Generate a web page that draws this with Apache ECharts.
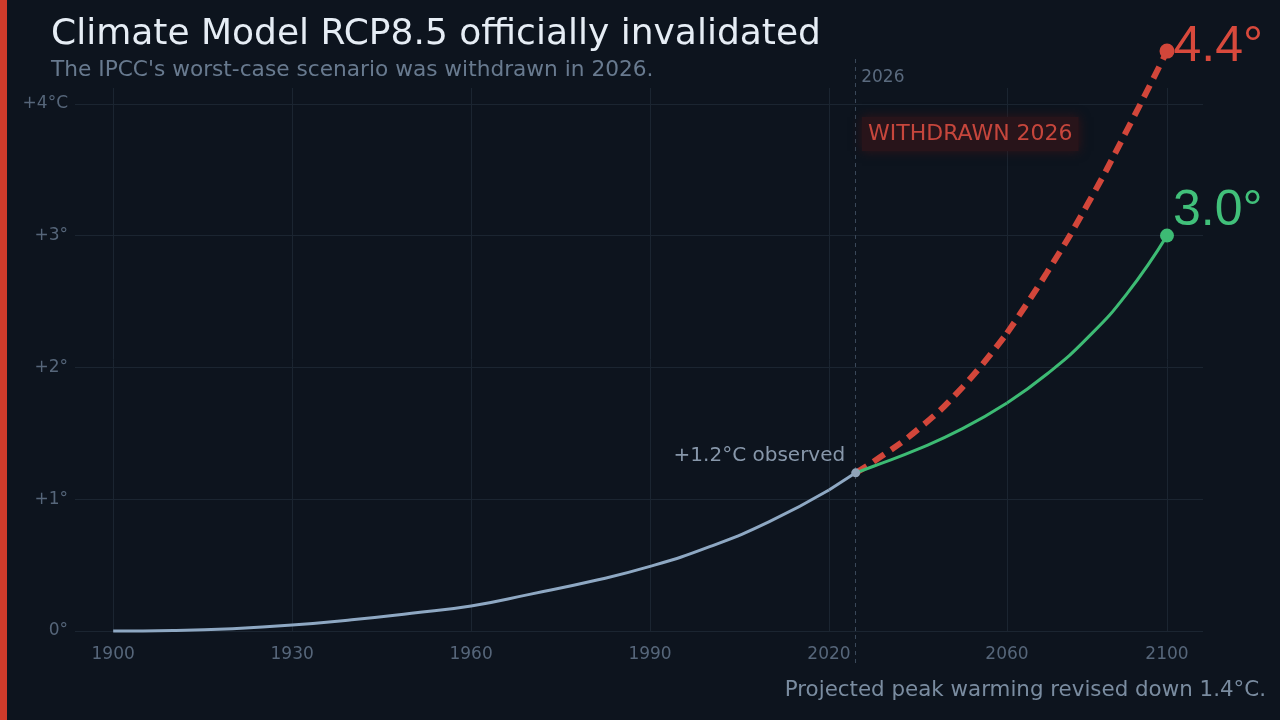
<!DOCTYPE html>
<html>
<head>
<meta charset="utf-8">
<title>Climate Model RCP8.5 officially invalidated</title>
<script src="https://cdn.jsdelivr.net/npm/echarts@6/dist/echarts.min.js"></script>
<style>
  html, body { margin: 0; padding: 0; background: #0d141e; }
  #chart { width: 1280px; height: 720px; }
</style>
</head>
<body>
<div id="chart"></div>
<script>
// observed warming, 1900-2026 (°C)
var histYears = [1900, 1910, 1920, 1930, 1940, 1950, 1960, 1970, 1980, 1990, 2000, 2010, 2020, 2026];
var histValues = [0, 0.004, 0.018, 0.045, 0.085, 0.135, 0.19, 0.28, 0.375, 0.49, 0.64, 0.83, 1.07, 1.2];

// projections 2026-2100
var projYears = [2026, 2030, 2040, 2050, 2060, 2070, 2080, 2090, 2100];
var rcp85Values = [1.2, 1.285, 1.53, 1.85, 2.26, 2.72, 3.23, 3.8, 4.4];
var revisedValues = [1.2, 1.25, 1.38, 1.535, 1.73, 1.95, 2.22, 2.56, 3.0];

var withdrawnYear = 2026;
var xTicksPast = [1900, 1930, 1960, 1990, 2020];
var xTicksFuture = [2060, 2100];
var yTicks = [0, 1, 2, 3, 4];
var yTickLabels = ['0°', '+1°', '+2°', '+3°', '+4°C'];

var FONT = 'DejaVu Sans';
var BIG_FONT = 'Liberation Sans';
var GRID_LINE = '#1b2531';
var AXIS_TEXT = '#56667a';
var RED = '#d2463a';
var GREEN = '#3dbb74';
var STEEL = '#8ea8c3';

// pick [x, y] pairs with lo <= x <= hi
function pairs(xs, ys, lo, hi) {
    var out = [];
    for (var i = 0; i < xs.length; i++) {
        if (xs[i] >= lo && xs[i] <= hi) out.push([xs[i], ys[i]]);
    }
    return out;
}

function yAxisCfg(idx, showLabels) {
    return {
        type: 'value',
        gridIndex: idx,
        min: 0,
        max: 4.12,
        axisLine: { show: false },
        axisTick: { show: false, customValues: yTicks },
        axisLabel: {
            show: showLabels,
            customValues: yTicks,
            color: AXIS_TEXT,
            fontSize: 17,
            fontFamily: FONT,
            margin: 7,
            formatter: function (v) {
                return yTickLabels[yTicks.indexOf(v)];
            }
        },
        splitLine: { show: true, lineStyle: { color: GRID_LINE, width: 1 } }
    };
}

function xAxisCfg(idx, min, max, ticks) {
    var hasTicks = ticks.length > 0;
    return {
        type: 'value',
        gridIndex: idx,
        min: min,
        max: max,
        axisLine: { show: false },
        axisTick: { show: false, customValues: hasTicks ? ticks : undefined },
        axisLabel: {
            show: hasTicks,
            customValues: hasTicks ? ticks : undefined,
            color: AXIS_TEXT,
            fontSize: 17,
            fontFamily: FONT,
            margin: 15,
            formatter: function (v) { return String(v); }
        },
        splitLine: { show: hasTicks, lineStyle: { color: GRID_LINE, width: 1 } }
    };
}

function lineSeries(idx, data, color, width, dashed) {
    return {
        type: 'line',
        xAxisIndex: idx,
        yAxisIndex: idx,
        data: data,
        smooth: true,
        showSymbol: false,
        clip: false,
        silent: true,
        lineStyle: {
            color: color,
            width: width,
            type: dashed ? [13, 8] : 'solid',
            cap: 'butt'
        },
        z: dashed ? 3 : 4
    };
}

function endPoint(idx, point, color, size, labelOpt) {
    return {
        type: 'scatter',
        xAxisIndex: idx,
        yAxisIndex: idx,
        clip: false,
        silent: true,
        symbolSize: size,
        itemStyle: { color: color, opacity: 1 },
        data: [point],
        label: labelOpt,
        z: 6
    };
}

var chart = echarts.init(document.getElementById('chart'));

var option = {
    backgroundColor: '#0d141e',
    animation: false,
    textStyle: { fontFamily: FONT },
    title: [
        {
            text: 'Climate Model RCP8.5 officially invalidated',
            subtext: "The IPCC's worst-case scenario was withdrawn in 2026.",
            left: 46,
            top: 12,
            itemGap: 6,
            textStyle: { fontSize: 36, color: '#e6edf5', fontWeight: 'normal', fontFamily: FONT },
            subtextStyle: { fontSize: 21.7, color: '#687a8f', fontFamily: FONT }
        },
        {
            text: 'WITHDRAWN 2026',
            left: 862,
            top: 117,
            padding: [6, 6],
            backgroundColor: '#28141a',
            shadowBlur: 10,
            shadowColor: 'rgba(60,20,22,0.8)',
            textStyle: { fontSize: 22, color: '#c6463c', fontWeight: 'normal', fontFamily: FONT }
        },
        {
            text: 'Projected peak warming revised down 1.4°C.',
            right: 14,
            top: 680,
            padding: 0,
            textStyle: { fontSize: 21.4, color: '#7a8ca0', fontWeight: 'normal', fontFamily: FONT }
        }
    ],
    graphic: [
        { type: 'rect', left: 0, top: 0, shape: { width: 7, height: 720 }, style: { fill: '#cf3b2b' } }
    ],
    grid: [
        { left: 75, top: 88, width: 754, height: 543 },
        { left: 829, top: 88, width: 178, height: 543 },
        { left: 1007, top: 88, width: 196, height: 543 },
        // taller overlay used only for the withdrawal marker line
        { left: 829, top: 57, width: 178, height: 606 }
    ],
    xAxis: [
        xAxisCfg(0, 1893.6, 2020, xTicksPast),
        xAxisCfg(1, 2020, 2060, []),
        xAxisCfg(2, 2060, 2109, xTicksFuture),
        { type: 'value', gridIndex: 3, min: 2020, max: 2060, show: false }
    ],
    yAxis: [
        yAxisCfg(0, true), yAxisCfg(1, false), yAxisCfg(2, false),
        { type: 'value', gridIndex: 3, min: -0.24, max: 4.36, show: false }
    ],
    series: [
        {
            type: 'line',
            xAxisIndex: 3,
            yAxisIndex: 3,
            data: [],
            silent: true,
            markLine: {
                silent: true,
                symbol: 'none',
                label: { show: false },
                lineStyle: { color: '#3a4859', width: 1, type: [4, 4] },
                data: [{ xAxis: withdrawnYear }]
            },
            z: 1
        },
        lineSeries(0, pairs(histYears, histValues, 1900, 2020), STEEL, 3, false),
        lineSeries(1, pairs(histYears, histValues, 2020, 2060), STEEL, 3, false),
        lineSeries(1, pairs(projYears, rcp85Values, 2026, 2060), RED, 6, true),
        lineSeries(2, pairs(projYears, rcp85Values, 2060, 2100), RED, 6, true),
        lineSeries(1, pairs(projYears, revisedValues, 2026, 2060), GREEN, 3, false),
        lineSeries(2, pairs(projYears, revisedValues, 2060, 2100), GREEN, 3, false),
        // year tag next to the marker line
        endPoint(1, [withdrawnYear, 4.2], 'rgba(0,0,0,0)', 1, {
            show: true,
            position: 'right',
            distance: 5,
            color: '#5a6a7e',
            fontSize: 17,
            fontFamily: FONT,
            formatter: function (p) { return String(p.value[0]); }
        }),
        endPoint(1, [histYears[histYears.length - 1], histValues[histValues.length - 1]], '#8fa3b8', 9, {
            show: true,
            position: 'left',
            distance: 6,
            offset: [0, -17],
            color: '#8797aa',
            fontSize: 20,
            fontFamily: FONT,
            formatter: function (p) { return '+' + p.value[1].toFixed(1) + '°C observed'; }
        }),
        endPoint(2, [projYears[projYears.length - 1], rcp85Values[rcp85Values.length - 1]], RED, 15, {
            show: true,
            position: 'right',
            distance: -1,
            offset: [0, -4],
            color: '#d8493c',
            fontSize: 50,
            fontFamily: BIG_FONT,
            formatter: function (p) { return p.value[1].toFixed(1) + '°'; }
        }),
        endPoint(2, [projYears[projYears.length - 1], revisedValues[revisedValues.length - 1]], GREEN, 14, {
            show: true,
            position: 'right',
            distance: -1,
            offset: [0, -24],
            color: '#41c07a',
            fontSize: 50,
            fontFamily: BIG_FONT,
            formatter: function (p) { return p.value[1].toFixed(1) + '°'; }
        })
    ]
};

chart.setOption(option);
window.addEventListener('resize', function () { chart.resize(); });
</script>
</body>
</html>
